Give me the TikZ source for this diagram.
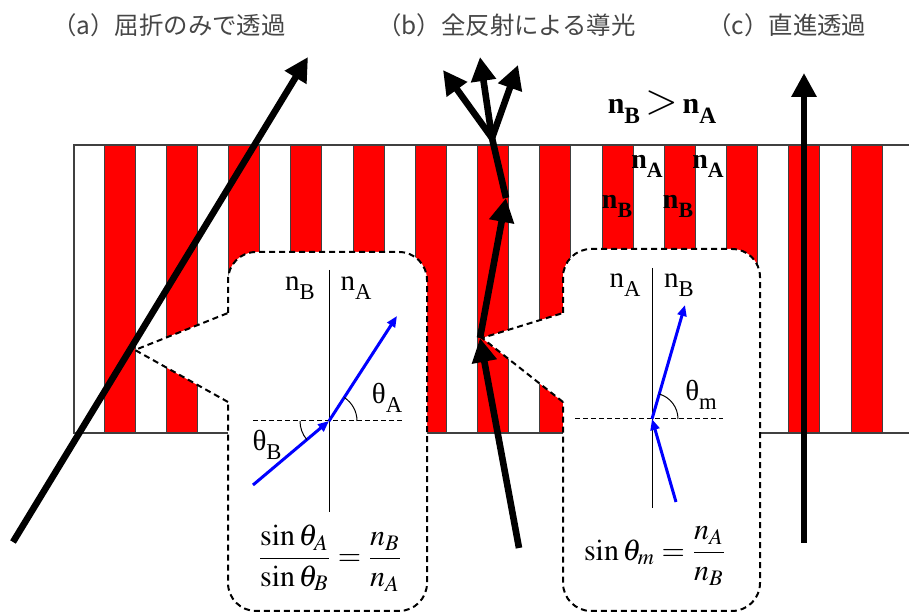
\documentclass[tikz,border=0pt]{standalone}
\usepackage{mathptmx}
\usepackage{fontspec}
\setmainfont{Liberation Serif}
\newfontfamily\jpfont{Noto Sans CJK JP}
\usetikzlibrary{arrows.meta}
\definecolor{stripered}{RGB}{255, 0, 0}
\definecolor{edgegray}{RGB}{64, 64, 64}
\definecolor{rayblue}{RGB}{0, 0, 255}
\definecolor{titlegray}{RGB}{70, 70, 70}
% 添字 (大きめ・低め)
\newcommand{\idx}[1]{\raisebox{-0.32em}{\scalebox{0.78}{#1}}}

\begin{document}
\begin{tikzpicture}[
		% 全体設定 (1px = 0.5pt)
		x=0.5pt, y=0.5pt,
		% スタイル定義
		title/.style={anchor=west, inner sep=0pt, text=titlegray, font=\jpfont\fontsize{12.2}{13}\selectfont},
		stripe/.style={fill=stripered, draw=edgegray, line width=0.5pt},
		slabedge/.style={draw=edgegray, line width=0.7pt},
		callout/.style={draw=black, line width=1pt, dash pattern=on 3pt off 2pt},
		beam/.style={line width=3.3pt, -{Triangle[length=12pt, width=12pt]}},
		beamline/.style={line width=3.3pt},
		ray/.style={draw=rayblue, line width=1.5pt, -{Triangle[length=5.5pt, width=4.5pt]}},
		normal/.style={line width=0.5pt},
		surface/.style={line width=0.5pt, dash pattern=on 2.5pt off 1.5pt},
		lbl/.style={inner sep=0pt, font=\fontsize{14.5}{14.5}\selectfont},
		blbl/.style={inner sep=0pt, font=\bfseries\fontsize{14}{14}\selectfont},
		eq/.style={inner sep=0pt, font=\fontsize{15}{15}\selectfont}
		]
		\useasboundingbox (0,0) rectangle (909,613);
		
		% ==========================================
		% タイトル
		% ==========================================
		\node[title] (title_a) at (52,588) {（a）屈折のみで透過};
		\node[title] (title_b) at (377,588) {（b）全反射による導光};
		\node[title] (title_c) at (707,588) {（c）直進透過};
		
		% ==========================================
		% 縞構造 (Slab)
		% ==========================================
		\fill[white] (74,180) rectangle (909,468);
		\foreach \k in {0,...,12}
		\draw[stripe] ({104+\k*62.25},180) rectangle ++(31,288);
		\draw[slabedge] (909,468) -- (74,468) -- (74,180) -- (909,180);
		
		% 屈折率ラベル
		\node[font=\bfseries\fontsize{15}{15}\selectfont, inner sep=0pt] (relation) at (662,506)
		{n\idx{B}\,{\mdseries\fontsize{21}{21}\selectfont$>$}\,n\idx{A}};
		\node[blbl] (na_1) at (647,447) {n\idx{A}};
		\node[blbl] (na_2) at (708,447) {n\idx{A}};
		\node[blbl] (nb_1) at (617,407) {n\idx{B}};
		\node[blbl] (nb_2) at (678,407) {n\idx{B}};
		
		% ==========================================
		% 吹き出し (a)
		% ==========================================
		\fill[white, rounded corners=14pt] (228,2) rectangle (427,361);
		\fill[white] (228,300) -- (135,263) -- (228,211) -- cycle;
		\draw[callout, rounded corners=14pt] (228,300) -- (228,361) -- (427,361) -- (427,2) -- (228,2) -- (228,211);
		\draw[callout] (228,211) -- (135,263) -- (228,300);
		
		\coordinate (a_top) at (329,343);
		\coordinate (a_bot) at (329,101);
		\coordinate (a_left) at (253,192);
		\coordinate (a_right) at (403,192);
		\coordinate (a_hit) at (329,192);
		\coordinate (a_in) at (253,128);
		\coordinate (a_out) at (397,297);
		
		\draw[normal] (a_top) -- (a_bot);
		\draw[surface] (a_left) -- (a_right);
		\draw[ray] (a_in) -- (a_hit);
		\draw[ray] (a_hit) -- (a_out);
		\draw[normal] ([shift={(0:28)}]a_hit) arc[start angle=0, end angle=57, radius=14pt];
		\draw[normal] ([shift={(180:29)}]a_hit) arc[start angle=180, end angle=220, radius=14.5pt];
		
		\node[lbl] (a_nb) at (300,325) {n\idx{B}};
		\node[lbl] (a_na) at (356,325) {n\idx{A}};
		\node[lbl] (a_tha) at (387,215) {θ\idx{A}};
		\node[lbl] (a_thb) at (267,168) {θ\idx{B}};
		\node[eq] (a_law) at (330,55) {$\displaystyle\frac{\sin\theta_A}{\sin\theta_B}=\frac{n_B}{n_A}$};
		
		% ==========================================
		% 吹き出し (b)
		% ==========================================
		\fill[white, rounded corners=14pt] (563,2) rectangle (760,364);
		\fill[white] (563,300) -- (482,275) -- (563,211) -- cycle;
		\draw[callout, rounded corners=14pt] (563,300) -- (563,364) -- (760,364) -- (760,2) -- (563,2) -- (563,211);
		\draw[callout] (563,211) -- (482,275) -- (563,300);
		
		\coordinate (b_top) at (652,345);
		\coordinate (b_bot) at (652,105);
		\coordinate (b_left) at (575,194);
		\coordinate (b_right) at (723,194);
		\coordinate (b_hit) at (652,194);
		\coordinate (b_in) at (676,111);
		\coordinate (b_out) at (685,308);
		
		\draw[normal] (b_top) -- (b_bot);
		\draw[surface] (b_left) -- (b_right);
		\draw[ray] (b_in) -- (b_hit);
		\draw[ray] (b_hit) -- (b_out);
		\draw[normal] ([shift={(0:26)}]b_hit) arc[start angle=0, end angle=74, radius=13pt];
		
		\node[lbl] (b_na) at (625,328) {n\idx{A}};
		\node[lbl] (b_nb) at (679,328) {n\idx{B}};
		\node[lbl] (b_thm) at (701,218) {θ\idx{m}};
		\node[eq] (b_law) at (655,57) {$\displaystyle\sin\theta_m=\frac{n_A}{n_B}$};
		
		% ==========================================
		% 光線 (黒矢印)
		% ==========================================
		% (a) 屈折のみ
		\coordinate (a_start) at (13,71);
		\coordinate (a_end) at (308,556);
		\draw[beam] (a_start) -- (a_end);
		
		% (b) 全反射
		\coordinate (b_start) at (519,65);
		\coordinate (b_refl1) at (480,275);
		\coordinate (b_refl2) at (506,415);
		\coordinate (b_split) at (492,475);
		\coordinate (b_end1) at (443,543);
		\coordinate (b_end2) at (480,556);
		\coordinate (b_end3) at (518,548);
		\draw[beam] (b_start) -- (b_refl1);
		\draw[beam] (b_refl1) -- (b_refl2);
		\draw[beamline] (b_refl2) -- (b_split);
		\draw[beam] (b_split) -- (b_end1);
		\draw[beam] (b_split) -- (b_end2);
		\draw[beam] (b_split) -- (b_end3);
		
		% (c) 直進
		\coordinate (c_start) at (804,70);
		\coordinate (c_end) at (804,540);
		\draw[beam] (c_start) -- (c_end);
		
	\end{tikzpicture}
\end{document}
